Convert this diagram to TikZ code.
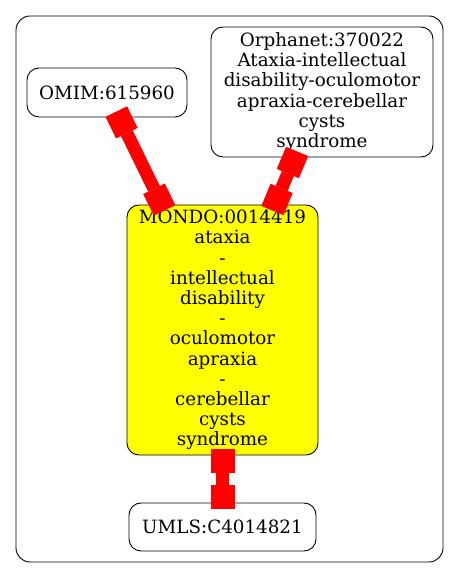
\documentclass[tikz,border=0pt]{standalone}
\usepackage{fontspec}
\setmainfont{DejaVu Serif}
\usetikzlibrary{arrows.meta}
\definecolor{gvyellow}{HTML}{FFFF00}
\begin{document}
\begin{tikzpicture}[x=1pt,y=1pt,
  gnode/.style={draw=black, rounded corners=12pt, line width=0.9pt, align=center, inner sep=0pt,
    font=\fontsize{18.3}{20.2}\selectfont},
  boxtip/.tip={Square[length=24pt,width=24pt,line width=0pt]},
  link/.style={draw=red, line width=13pt, boxtip-boxtip, shorten <=-6.5pt, shorten >=-6.5pt}]
\useasboundingbox (0,0) rectangle (460,579);
\draw[rounded corners=14pt, line width=0.9pt] (16,17) rectangle (443,563);
\node[gnode, minimum width=160pt, minimum height=49pt] (omim) at (107,486.5) {OMIM:615960};
\node[gnode, minimum width=222pt, minimum height=130pt] (orpha) at (322,487)
  {Orphanet:370022\\Ataxia-intellectual\\disability-oculomotor\\apraxia-cerebellar\\cysts\\syndrome};
\node[gnode, fill=gvyellow, minimum width=191pt, minimum height=250pt] (mondo) at (222.5,249)
  {MONDO:0014419\\ataxia\\-\\intellectual\\disability\\-\\oculomotor\\apraxia\\-\\cerebellar\\cysts\\syndrome};
\node[gnode, minimum width=187pt, minimum height=48pt] (umls) at (222.5,52) {UMLS:C4014821};
\draw[link] (omim) -- (mondo);
\draw[link] (orpha) -- (mondo);
\draw[link] (mondo) -- (umls);
\end{tikzpicture}
\end{document}
